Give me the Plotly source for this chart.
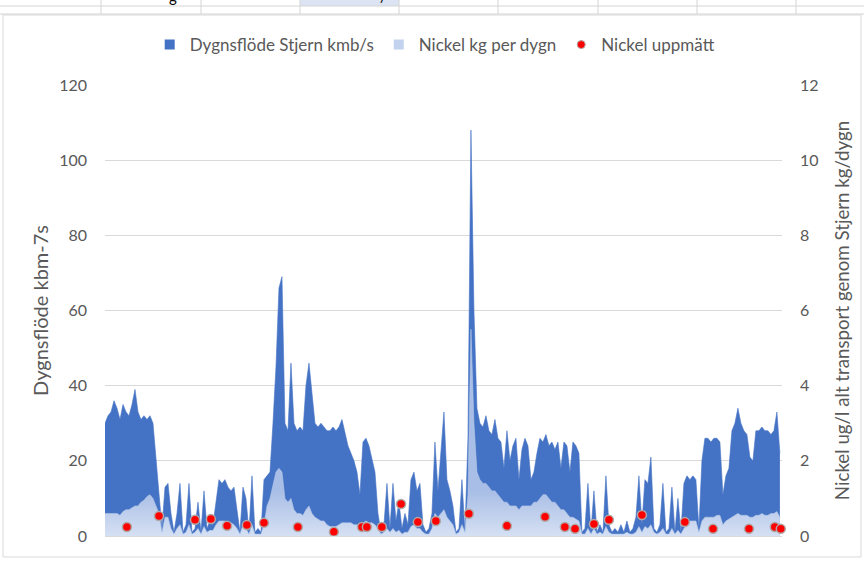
import plotly.graph_objects as go

# Sample index (one sample per step along the time axis)
flow = [30, 32, 33, 36, 34, 31, 35, 33, 32, 35, 39, 33, 31, 32, 31, 32, 30, 21, 13, 2,
        13, 14, 6, 1, 6, 14, 1, 3, 14, 1, 2, 9, 1, 12, 2, 4, 3, 9, 15, 14,
        15, 13, 12, 13, 7, 1, 13, 10, 1, 16, 1, 2, 1, 15, 16, 17, 30, 45, 66, 69,
        30, 28, 46, 30, 28, 29, 28, 40, 46, 38, 30, 29, 30, 29, 28, 28, 29, 28, 29, 31,
        27, 24, 22, 20, 17, 11, 25, 26, 24, 20, 17, 6, 1, 3, 14, 2, 14, 4, 9, 2,
        6, 3, 15, 17, 12, 14, 3, 1, 2, 6, 25, 12, 22, 33, 15, 12, 8, 1, 2, 15,
        1, 26, 108, 60, 34, 30, 29, 32, 28, 27, 31, 26, 25, 18, 28, 20, 24, 26, 15, 23,
        26, 24, 15, 17, 22, 26, 25, 27, 24, 25, 23, 25, 18, 25, 24, 17, 25, 24, 22, 1,
        2, 14, 1, 12, 1, 3, 1, 16, 3, 1, 2, 1, 3, 1, 4, 1, 2, 5, 16, 3,
        15, 14, 21, 2, 1, 3, 14, 1, 2, 13, 1, 10, 1, 14, 16, 15, 16, 15, 2, 20,
        26, 26, 25, 26, 26, 25, 11, 16, 18, 28, 30, 34, 30, 28, 27, 21, 20, 28, 28, 29,
        28, 28, 27, 28, 33, 22]

nickel_kg = [0.60, 0.60, 0.60, 0.60, 0.60, 0.55, 0.65, 0.70, 0.70, 0.75, 0.80, 0.80, 0.90, 0.95, 1.05, 1.10, 1.00, 0.80, 0.60, 0.10,
             0.50, 0.50, 0.20, 0.05, 0.20, 0.30, 0.05, 0.10, 0.30, 0.05, 0.10, 0.20, 0.05, 0.25, 0.10, 0.15, 0.15, 0.30, 0.40, 0.40,
             0.40, 0.35, 0.35, 0.30, 0.20, 0.05, 0.30, 0.20, 0.05, 0.30, 0.05, 0.05, 0.05, 0.30, 0.80, 1.00, 1.40, 1.70, 1.80, 1.70,
             1.00, 0.90, 1.00, 0.70, 0.60, 0.60, 0.55, 0.70, 0.80, 0.60, 0.50, 0.45, 0.40, 0.40, 0.30, 0.25, 0.25, 0.25, 0.30, 0.35,
             0.35, 0.35, 0.35, 0.30, 0.30, 0.25, 0.35, 0.40, 0.35, 0.35, 0.30, 0.20, 0.05, 0.10, 0.20, 0.10, 0.20, 0.10, 0.15, 0.05,
             0.10, 0.10, 0.25, 0.30, 0.20, 0.20, 0.10, 0.05, 0.05, 0.20, 0.60, 0.50, 0.60, 0.70, 0.50, 0.40, 0.30, 0.05, 0.10, 0.30,
             0.10, 1.10, 5.50, 3.00, 1.70, 1.50, 1.40, 1.40, 1.30, 1.20, 1.20, 1.10, 1.00, 0.90, 0.90, 0.80, 0.80, 0.80, 0.70, 0.80,
             0.80, 0.80, 0.80, 0.90, 0.90, 1.00, 1.10, 1.10, 1.00, 0.90, 0.90, 0.80, 0.70, 0.70, 0.60, 0.50, 0.50, 0.45, 0.40, 0.05,
             0.05, 0.20, 0.05, 0.20, 0.05, 0.10, 0.05, 0.25, 0.10, 0.05, 0.05, 0.05, 0.05, 0.05, 0.10, 0.05, 0.05, 0.10, 0.25, 0.10,
             0.25, 0.20, 0.30, 0.10, 0.05, 0.10, 0.20, 0.05, 0.05, 0.20, 0.05, 0.15, 0.05, 0.20, 0.30, 0.40, 0.40, 0.40, 0.10, 0.40,
             0.50, 0.50, 0.50, 0.50, 0.55, 0.55, 0.30, 0.40, 0.45, 0.50, 0.55, 0.60, 0.55, 0.55, 0.55, 0.50, 0.50, 0.55, 0.55, 0.60,
             0.55, 0.55, 0.60, 0.60, 0.65, 0.50]

sample = list(range(len(flow)))

# Measured nickel (ug/l) and the sample position at which it was measured
meas_pos = [7.3, 18.0, 30.0, 35.3, 40.7, 47.3, 53.0, 64.3, 76.3, 85.7, 87.3, 92.3, 98.7, 104.3,
            110.3, 121.3, 134.0, 146.7, 153.3, 156.7, 163.0, 168.0, 179.0, 193.3, 202.7, 214.7,
            223.3, 225.3]
meas_val = [0.24, 0.53, 0.43, 0.45, 0.27, 0.29, 0.35, 0.24, 0.11, 0.24, 0.24, 0.24, 0.85, 0.37,
            0.40, 0.59, 0.27, 0.51, 0.24, 0.19, 0.32, 0.43, 0.56, 0.37, 0.19, 0.19, 0.24, 0.19]

left_ticks = [0, 20, 40, 60, 80, 100, 120]
right_ticks = [0, 2, 4, 6, 8, 10, 12]

W, H = 864, 561
L, R, T, B = 105, 782, 85, 536
FONT = "Lato, 'Open Sans', sans-serif"
GREY = "#595959"
DARK = "#4472C4"
LIGHT = "#B4C7E7"


def px(x):
    return (x - L) / (R - L)


def py(y):
    return (B - y) / (B - T)


fig = go.Figure()
fig.add_trace(go.Scatter(
    x=sample, y=flow, name="Dygnsflöde Stjern kmb/s", mode="lines",
    line=dict(color=DARK, width=0.6), fill="tozeroy", fillcolor=DARK,
    yaxis="y", hoverinfo="skip", showlegend=False))
fig.add_trace(go.Scatter(
    x=sample, y=nickel_kg, name="Nickel kg per dygn", mode="lines",
    line=dict(color=LIGHT, width=0.6), fill="tozeroy",
    fillgradient=dict(type="vertical", start=0, stop=1.2,
                      colorscale=[[0, "#D5E0F3"], [1, "#A9BEE6"]]),
    yaxis="y2", hoverinfo="skip", showlegend=False))
fig.add_trace(go.Scatter(
    x=meas_pos, y=meas_val, name="Nickel uppmätt", mode="markers",
    marker=dict(color="#FF0000", size=9, line=dict(color="#B0A8A8", width=1.5)),
    yaxis="y2", cliponaxis=False, hoverinfo="skip", showlegend=False))

# legend entries (square swatches as in the original)
fig.add_trace(go.Scatter(x=[None], y=[None], mode="markers", name="Dygnsflöde Stjern kmb/s",
                         marker=dict(symbol="square", size=10, color=DARK)))
fig.add_trace(go.Scatter(x=[None], y=[None], mode="markers", name="Nickel kg per dygn",
                         marker=dict(symbol="square", size=10, color="#C3D2EE")))
fig.add_trace(go.Scatter(x=[None], y=[None], mode="markers", name="Nickel uppmätt",
                         marker=dict(color="#FF0000", size=8, line=dict(color="#B0A8A8", width=1))))

shapes = []
# spreadsheet grid above the chart
shapes.append(dict(type="rect", xref="paper", yref="paper", x0=px(300), x1=px(399),
                   y0=py(0), y1=py(6), fillcolor="#DCE4F4", line=dict(width=0), layer="below"))
for yy in [6, 14]:
    shapes.append(dict(type="line", xref="paper", yref="paper", x0=px(0), x1=px(864),
                       y0=py(yy), y1=py(yy), line=dict(color="#D4D4D4", width=1)))
for xx in [101, 201, 300, 399, 498, 598, 697, 796]:
    shapes.append(dict(type="line", xref="paper", yref="paper", x0=px(xx), x1=px(xx),
                       y0=py(0), y1=py(14), line=dict(color="#D4D4D4", width=1)))
# chart frame
shapes.append(dict(type="rect", xref="paper", yref="paper", x0=px(3), x1=px(861),
                   y0=py(557), y1=py(15), line=dict(color="#D9D9D9", width=1),
                   fillcolor="rgba(0,0,0,0)", layer="below"))

annotations = [
    dict(text="g", xref="paper", yref="paper", x=px(167), y=py(7), yanchor="bottom",
         showarrow=False, font=dict(family=FONT, size=15, color="#000000")),
    dict(text="/", xref="paper", yref="paper", x=px(383), y=py(7), yanchor="bottom",
         showarrow=False, font=dict(family=FONT, size=15, color="#000000")),
]

fig.update_layout(
    width=W, height=H,
    margin=dict(l=L, r=W - R, t=T, b=H - B),
    paper_bgcolor="white", plot_bgcolor="white",
    font=dict(family=FONT, size=16, color=GREY),
    showlegend=True,
    legend=dict(orientation="h", x=0.487, xanchor="center", y=py(45), yanchor="middle",
                font=dict(size=17, color=GREY), itemwidth=30, tracegroupgap=0,
                bgcolor="rgba(0,0,0,0)"),
    xaxis=dict(range=[0, 225.7], showticklabels=False, showgrid=False, zeroline=False,
               showline=True, linecolor="#D9D9D9", linewidth=1, ticks=""),
    yaxis=dict(range=[0, 120], tickvals=left_ticks, showgrid=True, gridcolor="#D9D9D9",
               gridwidth=1, zeroline=False, ticks="", ticklabelstandoff=17,
               title=dict(text="Dygnsflöde kbm-7s", font=dict(size=20, color=GREY), standoff=5)),
    yaxis2=dict(range=[0, 12], tickvals=right_ticks, overlaying="y", side="right",
                showgrid=False, zeroline=False, ticks="", ticklabelstandoff=17,
                title=dict(text="Nickel ug/l alt transport genom Stjern kg/dygn",
                           font=dict(size=18.7, color=GREY), standoff=18)),
    shapes=shapes, annotations=annotations,
)

fig.write_html("out.html", config={"displayModeBar": False},
               post_script="document.body.style.margin='0';")
